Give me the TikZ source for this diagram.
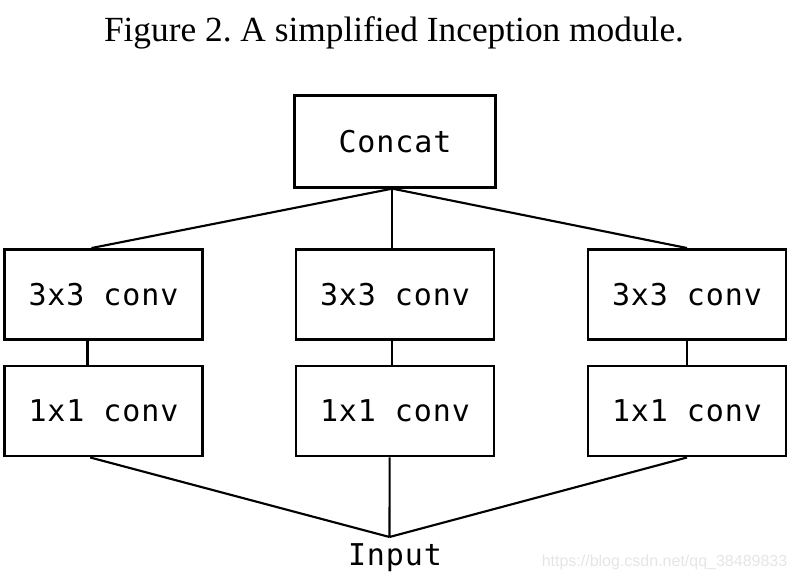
\documentclass[tikz,border=0pt]{standalone}
\usepackage{fontspec}
\setmainfont{Liberation Serif}
\newfontfamily\convfont[LetterSpace=3]{DejaVu Sans Mono}
\newfontfamily\markfont{Liberation Sans}
\tikzset{
  layer/.style={draw,line width=2.2pt,minimum width=148.5pt,minimum height=67.5pt,
    inner sep=0pt,font=\convfont\fontsize{22.5}{26}\selectfont},
  link/.style={line width=1.6pt}
}
\begin{document}
\begin{tikzpicture}[x=0.75pt,y=-0.75pt]
  \useasboundingbox (0,0) rectangle (800,581);
  \node[font=\fontsize{26.5}{32}\selectfont] (title) at (394,33) {\frenchspacing Figure 2. A simplified Inception module.};
  \node[layer,minimum width=151pt,minimum height=68.5pt] (concat) at (395,141.5) {Concat};
  % three branches
  \node[layer] (a3) at (103.5,294.5) {3x3 conv};
  \node[layer] (b3) at (395,294.5) {3x3 conv};
  \node[layer] (c3) at (687,294.5) {3x3 conv};
  \node[layer] (a1) at (103.5,411) {1x1 conv};
  \node[layer] (b1) at (395,411) {1x1 conv};
  \node[layer] (c1) at (687,411) {1x1 conv};
  \node[font=\convfont\fontsize{22.5}{26}\selectfont,anchor=base] (input) at (395,565) {Input};
  \coordinate (join) at (389.5,537);
  \draw[link] ([xshift=-2pt]concat.south) -- ([xshift=-9pt]a3.north);
  \draw[link] ([xshift=-2pt]concat.south) -- ([xshift=-2pt]b3.north);
  \draw[link] ([xshift=-2pt]concat.south) -- (c3.north);
  \draw[link] ([xshift=-12pt]a3.south) -- ([xshift=-12pt]a1.north);
  \draw[link] ([xshift=-2pt]b3.south) -- ([xshift=-2pt]b1.north);
  \draw[link] (c3.south) -- (c1.north);
  \draw[link] ([xshift=-10pt]a1.south) -- (join);
  \draw[link] ([xshift=-4pt]b1.south) -- (join);
  \draw[link] (c1.south) -- (join);
  \node[anchor=east,text=black!10,font=\markfont\fontsize{12}{14}\selectfont] (mark) at (792,562) {https://blog.csdn.net/qq\_38489833};
\end{tikzpicture}
\end{document}
